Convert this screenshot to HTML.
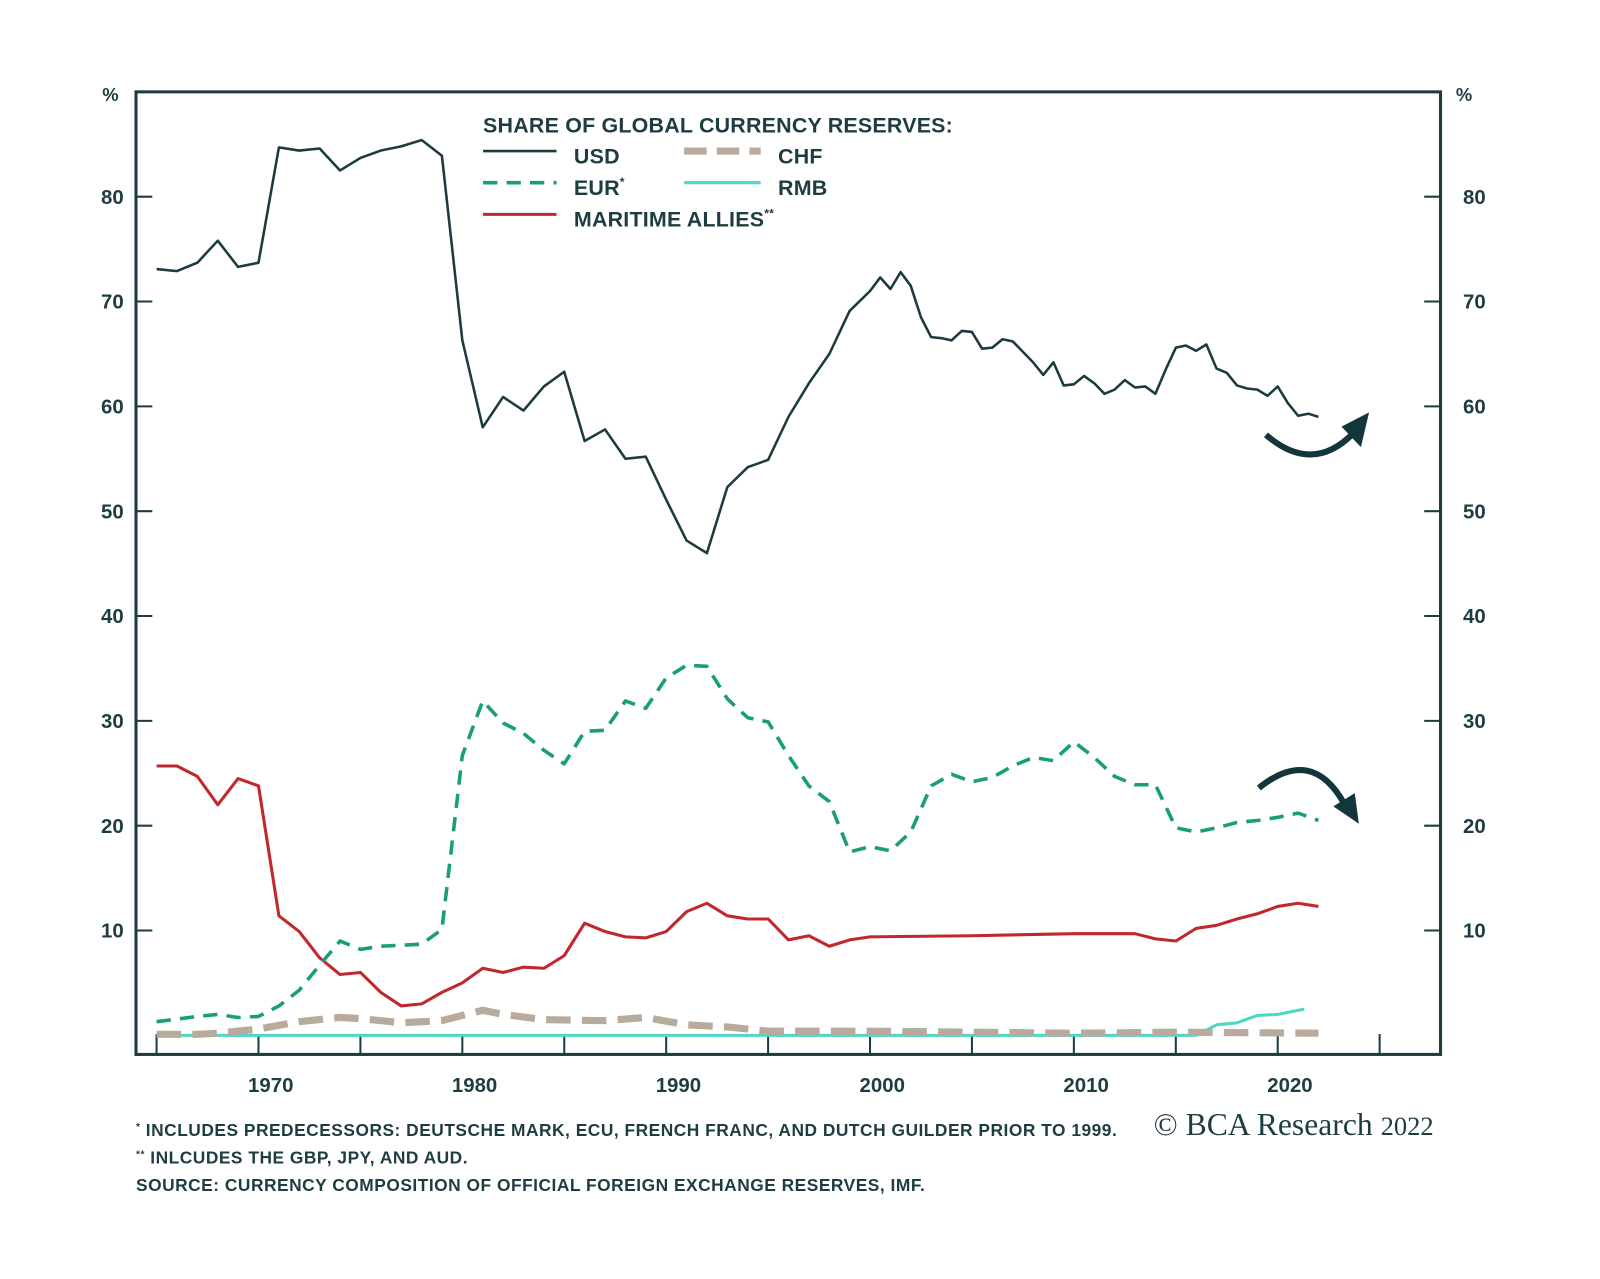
<!DOCTYPE html>
<html><head><meta charset="utf-8"><style>
html,body{margin:0;padding:0;background:#fff;}
svg{display:block;font-family:"Liberation Sans",sans-serif;}
</style></head><body>
<svg id="chart" width="1600" height="1279" viewBox="0 0 1567 1253">
<rect width="1567" height="1253" fill="#fff"/>
<g id="grid"></g>
<g id="series"></g>
<rect x="133" y="90" width="1278" height="943" fill="none" stroke="#1e3d40" stroke-width="3"/>
<text x="108" y="99" font-size="18" font-weight="bold" fill="#1e3d40" text-anchor="middle">%</text>
<text x="1434" y="99" font-size="18" font-weight="bold" fill="#1e3d40" text-anchor="middle">%</text>
<g fill="#1e3d40" font-size="21" font-weight="bold" letter-spacing="0.2">
<text x="473" y="130">SHARE OF GLOBAL CURRENCY RESERVES:</text>
<line x1="473" y1="148" x2="545" y2="148" stroke="#1b3b3f" stroke-width="2.5"/>
<text x="562" y="160">USD</text>
<line x1="670" y1="148" x2="745" y2="148" stroke="#b8aa9c" stroke-width="7" stroke-dasharray="22,10"/>
<text x="762" y="160">CHF</text>
<line x1="473" y1="179" x2="545" y2="179" stroke="#1a9e77" stroke-width="3.5" stroke-dasharray="14,9"/>
<text x="562" y="191">EUR<tspan font-size="12" dy="-9">*</tspan></text>
<line x1="670" y1="179" x2="745" y2="179" stroke="#4fd6c6" stroke-width="3"/>
<text x="762" y="191">RMB</text>
<line x1="473" y1="210" x2="545" y2="210" stroke="#c0282d" stroke-width="3"/>
<text x="562" y="222">MARITIME ALLIES<tspan font-size="12" dy="-9">**</tspan></text>
</g>
<g>
<path d="M1240,426 Q1285,465 1325,425" fill="none" stroke="#12363b" stroke-width="6"/>
<polygon points="1341,404 1314,418 1333,438" fill="#12363b"/>
</g>
<g>
<path d="M1233,772 Q1285,730 1317,788" fill="none" stroke="#12363b" stroke-width="6"/>
<polygon points="1331,807 1306,790 1327,777" fill="#12363b"/>
</g>
<g fill="#1e3d40" font-size="17" font-weight="bold" letter-spacing="0.5">
<text x="133" y="1113"><tspan font-size="10" dy="-6">*</tspan><tspan dy="6"> INCLUDES PREDECESSORS: DEUTSCHE MARK, ECU, FRENCH FRANC, AND DUTCH GUILDER PRIOR TO 1999.</tspan></text>
<text x="133" y="1140"><tspan font-size="10" dy="-6">**</tspan><tspan dy="6"> INLCUDES THE GBP, JPY, AND AUD.</tspan></text>
<text x="133" y="1167">SOURCE: CURRENCY COMPOSITION OF OFFICIAL FOREIGN EXCHANGE RESERVES, IMF.</text>
</g>
<text x="1130" y="1112" font-family="Liberation Serif,serif" font-size="31" fill="#1e3d40">© BCA Research <tspan font-size="26">2022</tspan></text>
</svg>
<script>
const usdYears=[1965,1966,1967,1968,1969,1970,1971,1972,1973,1974,1975,1976,1977,1978,1979,1980,1981,1982,1983,1984,1985,1986,1987,1988,1989,1990,1991,1992,1993,1994,1995,1996,1997,1998,1999,2000,2000.5,2001,2001.5,2002,2002.5,2003,2003.5,2004,2004.5,2005,2005.5,2006,2006.5,2007,2007.5,2008,2008.5,2009,2009.5,2010,2010.5,2011,2011.5,2012,2012.5,2013,2013.5,2014,2014.5,2015,2015.5,2016,2016.5,2017,2017.5,2018,2018.5,2019,2019.5,2020,2020.5,2021,2021.5,2022];
const usdValues=[73.1,72.9,73.7,75.8,73.3,73.7,84.7,84.4,84.6,82.5,83.7,84.4,84.8,85.4,83.9,66.3,58.0,60.9,59.6,61.9,63.3,56.7,57.8,55.0,55.2,51.1,47.2,46.0,52.3,54.2,54.9,59.0,62.2,65.0,69.1,71.0,72.3,71.2,72.8,71.5,68.5,66.6,66.5,66.3,67.2,67.1,65.5,65.6,66.4,66.2,65.2,64.2,63.0,64.2,62.0,62.1,62.9,62.2,61.2,61.6,62.5,61.8,61.9,61.2,63.5,65.6,65.8,65.3,65.9,63.6,63.2,62.0,61.7,61.6,61.0,61.9,60.3,59.1,59.3,59.0];
const eurYears=[1965,1967,1968,1969,1970,1971,1972,1973,1974,1975,1976,1977,1978,1979,1980,1981,1982,1983,1984,1985,1986,1987,1988,1989,1990,1991,1992,1993,1994,1995,1996,1997,1998,1999,2000,2001,2002,2003,2004,2005,2006,2007,2008,2009,2010,2011,2012,2013,2014,2015,2016,2017,2018,2019,2020,2021,2022];
const eurValues=[1.3,1.8,2.0,1.7,1.8,2.8,4.3,6.7,9.0,8.2,8.5,8.6,8.7,10.1,26.7,31.9,29.8,28.8,27.2,25.9,29.0,29.1,31.9,31.2,34.1,35.3,35.2,32.1,30.3,29.9,26.7,23.8,22.3,17.5,18.0,17.6,19.4,23.8,24.9,24.2,24.6,25.7,26.5,26.2,28.0,26.5,24.7,23.9,23.9,19.8,19.4,19.8,20.3,20.5,20.8,21.2,20.5];
const marYears=[1965,1966,1967,1968,1969,1970,1971,1972,1973,1974,1975,1976,1977,1978,1979,1980,1981,1982,1983,1984,1985,1986,1987,1988,1989,1990,1991,1992,1993,1994,1995,1996,1997,1998,1999,2000,2005,2010,2013,2014,2015,2016,2017,2018,2019,2020,2021,2022];
const marValues=[25.7,25.7,24.7,22.0,24.5,23.8,11.4,9.9,7.4,5.8,6.0,4.1,2.8,3.0,4.1,5.0,6.4,6.0,6.5,6.4,7.6,10.7,9.9,9.4,9.3,9.9,11.8,12.6,11.4,11.1,11.1,9.1,9.5,8.5,9.1,9.4,9.5,9.7,9.7,9.2,9.0,10.2,10.5,11.1,11.6,12.3,12.6,12.3];
const chfYears=[1965,1967,1968,1970,1972,1974,1975,1977,1979,1981,1982,1984,1987,1989,1991,1993,1995,2000,2005,2010,2015,2022];
const chfValues=[0.1,0.1,0.2,0.6,1.3,1.7,1.6,1.2,1.4,2.4,2.0,1.5,1.4,1.7,1.0,0.8,0.4,0.4,0.3,0.2,0.3,0.2];
const rmbYears=[1965,2016,2017,2018,2019,2020,2021.3];
const rmbValues=[0,0,1.0,1.2,1.9,2.0,2.5];
const yTicks=[10,20,30,40,50,60,70,80];
const xLabels=[1970,1980,1990,2000,2010,2020];
const xTickYears=[1965,1970,1975,1980,1985,1990,1995,2000,2005,2010,2015,2020,2025];

const NS='http://www.w3.org/2000/svg';
const xs=y=>253+(y-1970)*19.97;
const ys=v=>1014.3-v*10.27;
function mk(tag,attrs,parent){const e=document.createElementNS(NS,tag);for(const k in attrs)e.setAttribute(k,attrs[k]);parent.appendChild(e);return e;}
const grid=document.getElementById('grid');
const series=document.getElementById('series');
yTicks.forEach(v=>{
  const l=mk('line',{x1:133,x2:149,y1:ys(v),y2:ys(v),stroke:'#1e3d40','stroke-width':2},grid);
  
  
  const r=mk('line',{x1:1395,x2:1411,y1:ys(v),y2:ys(v),stroke:'#1e3d40','stroke-width':2},grid);
  
  
  const t=mk('text',{x:121,y:ys(v)+7,'text-anchor':'end','font-size':20,'font-weight':'bold',fill:'#1e3d40'},grid);
  t.textContent=v;
  
  
  const t2=mk('text',{x:1433,y:ys(v)+7,'font-size':20,'font-weight':'bold',fill:'#1e3d40'},grid);
  t2.textContent=v;
  
  
});
xTickYears.forEach(y=>{
  const l=mk('line',{x1:xs(y),x2:xs(y),y1:1013,y2:1033,stroke:'#1e3d40','stroke-width':2},grid);
  
  
});
xLabels.forEach(y=>{
  const t=mk('text',{x:xs(y)+12,y:1070,'text-anchor':'middle','font-size':20,'font-weight':'bold',fill:'#1e3d40'},grid);
  t.textContent=y;
  
  
});
function line(years,vals,attrs,name){
  const d=years.map((y,i)=>(i?'L':'M')+xs(y).toFixed(1)+','+ys(vals[i]).toFixed(1)).join(' ');
  const p=mk('path',Object.assign({d:d,fill:'none','stroke-linejoin':'round'},attrs),series);
  
  
}
line(rmbYears,rmbValues,{stroke:'#4fd6c6','stroke-width':3},'rmb-line');
line(chfYears,chfValues,{stroke:'#b8aa9c','stroke-width':7,'stroke-dasharray':'24,11'},'chf-line');
line(marYears,marValues,{stroke:'#c0282d','stroke-width':3},'maritime-allies-line');
line(eurYears,eurValues,{stroke:'#1a9e77','stroke-width':3.5,'stroke-dasharray':'14,9'},'eur-line');
line(usdYears,usdValues,{stroke:'#1b3b3f','stroke-width':2.5},'usd-line');
</script>
</body></html>
